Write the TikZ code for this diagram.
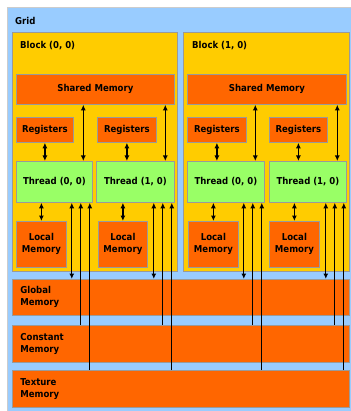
\documentclass[tikz,border=0pt]{standalone}
\usepackage{fontspec}
\setmainfont{DejaVu Sans Condensed}
\usetikzlibrary{arrows.meta}
\definecolor{gridblue}{HTML}{99CCFF}
\definecolor{blockyellow}{HTML}{FFCC00}
\definecolor{memorange}{HTML}{FF6600}
\definecolor{threadgreen}{HTML}{99FF66}
\definecolor{edgegray}{HTML}{9A9A9A}
\begin{document}
\begin{tikzpicture}[x=1pt,y=-1pt,
  font=\bfseries\fontsize{9.5}{12}\selectfont,
  box/.style={draw=edgegray, line width=0.8pt, inner sep=0pt, anchor=north west},
  gridbox/.style={box, draw=gray!40, fill=gridblue},
  blockbox/.style={box, fill=blockyellow},
  mem/.style={box, fill=memorange, align=center},
  thr/.style={box, fill=threadgreen},
  bigmem/.style={box, fill=memorange, minimum height=36pt, text width=321pt, inner xsep=8pt, align=left},
  lbl/.style={anchor=west, inner sep=0pt},
  tipx/.style={-{Latex[length=5.5pt,width=5pt]}},
  dbl/.style={{Latex[length=5.5pt,width=5pt]}-{Latex[length=5.5pt,width=5pt]}},
  conn/.style={line width=1.3pt, black}]
\useasboundingbox (0,0) rectangle (350,411);
\fill[white] (0,0) rectangle (350,411);
% grid
\node[gridbox, minimum width=346pt, minimum height=408pt] (grid) at (7,7) {};
\node[lbl] (gridlbl) at (15,21) {Grid};
% blocks
\node[blockbox, minimum width=165pt, minimum height=239pt] (b0) at (12,32) {};
\node[blockbox, minimum width=166pt, minimum height=239pt] (b1) at (183,32) {};
\node[lbl] (b0lbl) at (20,46) {Block (0, 0)};
\node[lbl] (b1lbl) at (192,46) {Block (1, 0)};
% shared memory
\node[mem, minimum width=158pt, minimum height=30pt] (sm0) at (16,74) {Shared Memory};
\node[mem, minimum width=159pt, minimum height=30pt] (sm1) at (187,74) {Shared Memory};
% registers
\node[mem, minimum width=57pt, minimum height=25pt] (r00) at (16,117) {Registers};
\node[mem, minimum width=59pt, minimum height=25pt] (r10) at (97,117) {Registers};
\node[mem, minimum width=59pt, minimum height=25pt] (r01) at (187,117) {Registers};
\node[mem, minimum width=58pt, minimum height=25pt] (r11) at (269,117) {Registers};
% threads
\node[thr, minimum width=76pt, minimum height=41pt] (t00) at (16,161) {Thread (0, 0)};
\node[thr, minimum width=78pt, minimum height=41pt] (t10) at (96,161) {Thread (1, 0)};
\node[thr, minimum width=77pt, minimum height=41pt] (t01) at (187,161) {Thread (0, 0)};
\node[thr, minimum width=77pt, minimum height=41pt] (t11) at (269,161) {Thread (1, 0)};
% local memory
\node[mem, minimum width=50pt, minimum height=46pt] (l00) at (16,221) {Local\\Memory};
\node[mem, minimum width=49pt, minimum height=46pt] (l10) at (98,221) {Local\\Memory};
\node[mem, minimum width=50pt, minimum height=46pt] (l01) at (188,221) {Local\\Memory};
\node[mem, minimum width=50pt, minimum height=46pt] (l11) at (269,221) {Local\\Memory};
% global/constant/texture
\node[bigmem, minimum height=36pt] (gm) at (12,279) {Global\\Memory};
\node[bigmem, minimum height=37pt] (cm) at (12,325) {Constant\\Memory};
\node[bigmem, minimum height=37pt] (tm) at (12,370) {Texture\\Memory};
% connectors
\foreach \t/\r/\l/\s in {t00/r00/l00/sm0, t10/r10/l10/sm0, t01/r01/l01/sm1, t11/r11/l11/sm1}{
  \draw[conn, dbl] (\r.south) -- (\r.south |- \t.north);
  \draw[conn, dbl] (\l.north |- \t.south) -- (\l.north);
  \draw[conn, dbl] ([xshift=-9.5pt]\t.north east |- \s.south) -- ([xshift=-9.5pt]\t.north east);
  \draw[conn, dbl] ([xshift=-21pt]\t.south east) -- ([xshift=-21pt]\t.south east |- gm.north);
  \draw[conn, tipx] ([xshift=-12pt]\t.south east |- cm.north) -- ([xshift=-12pt]\t.south east);
  \draw[conn, tipx] ([xshift=-3pt]\t.south east |- tm.north) -- ([xshift=-3pt]\t.south east);
}
\end{tikzpicture}
\end{document}
